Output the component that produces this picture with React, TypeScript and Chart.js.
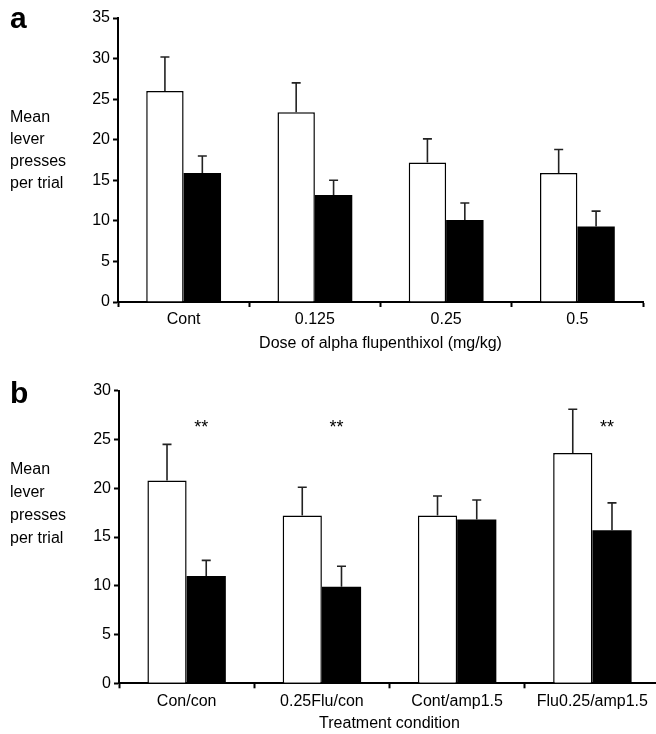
import React, { useEffect, useRef } from "react";
import { Chart, registerables } from "chart.js";

Chart.register(...registerables);

// ---------- data ----------
const doseLabels = ["Cont", "0.125", "0.25", "0.5"];
const doseOpenMeans = [26.0, 23.4, 17.2, 15.9];
const doseOpenSem = [4.2, 3.6, 2.9, 2.9];
const doseFilledMeans = [15.9, 13.2, 10.1, 9.3];
const doseFilledSem = [2.1, 1.8, 2.1, 1.9];
const doseAxisMax = 35;

const treatLabels = ["Con/con", "0.25Flu/con", "Cont/amp1.5", "Flu0.25/amp1.5"];
const treatOpenMeans = [20.8, 17.2, 17.2, 23.6];
const treatOpenSem = [3.7, 2.9, 2.0, 4.5];
const treatFilledMeans = [11.0, 9.9, 16.8, 15.7];
const treatFilledSem = [1.6, 2.1, 2.0, 2.8];
const treatSignificance = ["**", "**", "", "**"];
const treatSigLevel = 26.7;
const treatAxisMax = 30;

const yTitleLines = ["Mean", "lever", "presses", "per trial"];
const doseTitle = "Dose of alpha flupenthixol (mg/kg)";
const treatTitle = "Treatment condition";

const FONT = "'Liberation Sans', Arial, Helvetica, sans-serif";

Chart.defaults.font.family = FONT;
Chart.defaults.font.size = 16;
Chart.defaults.color = "#000";

const errorBarPlugin = {
  id: "errorBars",
  afterDatasetsDraw(chart: any) {
    const ctx = chart.ctx;
    const y = chart.scales.y;
    chart.data.datasets.forEach((ds: any, di: number) => {
      const meta = chart.getDatasetMeta(di);
      meta.data.forEach((bar: any, i: number) => {
        const top = y.getPixelForValue(ds.data[i] + ds.errors[i]);
        ctx.save();
        ctx.strokeStyle = "#222";
        ctx.lineWidth = 1.6;
        ctx.beginPath();
        ctx.moveTo(bar.x, bar.y);
        ctx.lineTo(bar.x, top);
        ctx.moveTo(bar.x - 4.5, top);
        ctx.lineTo(bar.x + 4.5, top);
        ctx.stroke();
        ctx.restore();
      });
    });
  },
};

function makeTextPlugin(letter: string, letterY: number, titleY0: number, titleStep: number, sig?: string[], sigLevel?: number) {
  return {
    id: "panelText",
    afterDraw(chart: any) {
      const ctx = chart.ctx;
      ctx.save();
      ctx.fillStyle = "#000";
      ctx.font = `bold 30px ${FONT}`;
      ctx.textAlign = "left";
      ctx.textBaseline = "alphabetic";
      ctx.fillText(letter, 10, letterY);
      ctx.font = `16px ${FONT}`;
      ctx.textBaseline = "middle";
      yTitleLines.forEach((line, i) => ctx.fillText(line, 10, titleY0 + i * titleStep));
      if (sig && sigLevel !== undefined) {
        const meta = chart.getDatasetMeta(1);
        const yPix = chart.scales.y.getPixelForValue(sigLevel);
        ctx.font = `18px ${FONT}`;
        ctx.textAlign = "center";
        ctx.textBaseline = "alphabetic";
        sig.forEach((s, i) => {
          if (!s) return;
          const bar: any = meta.data[i];
          ctx.fillText(s, bar.x - 5, yPix + 10);
        });
      }
      ctx.restore();
    },
  };
}

function makeConfig(o: {
  labels: string[];
  open: number[];
  openErr: number[];
  filled: number[];
  filledErr: number[];
  max: number;
  yWidth: number;
  xHeight: number;
  padTop: number;
  padRight: number;
  catPct: number;
  title: string;
  tickPad: number;
  titlePadBottom: number;
  textPlugin: any;
}): any {
  return {
    type: "bar",
    data: {
      labels: o.labels,
      datasets: [
        {
          label: "Open",
          data: o.open,
          errors: o.openErr,
          backgroundColor: "#fff",
          borderColor: "#000",
          borderWidth: 1.5,
          borderSkipped: "bottom",
          categoryPercentage: o.catPct,
          barPercentage: 1,
        },
        {
          label: "Filled",
          data: o.filled,
          errors: o.filledErr,
          backgroundColor: "#000",
          borderColor: "#000",
          borderWidth: 0,
          categoryPercentage: o.catPct,
          barPercentage: 1,
        },
      ],
    },
    options: {
      responsive: false,
      animation: false,
      layout: { padding: { top: o.padTop, right: o.padRight, left: 0, bottom: 0 } },
      plugins: { legend: { display: false }, tooltip: { enabled: false } },
      scales: {
        x: {
          grid: {
            offset: true,
            drawOnChartArea: false,
            drawTicks: true,
            tickLength: 5,
            tickWidth: 2,
            tickColor: "#000",
          },
          border: { display: true, color: "#000", width: 2 },
          ticks: { color: "#000", padding: o.tickPad, font: { size: 16 }, maxRotation: 0, autoSkip: false },
          title: {
            display: true,
            text: o.title,
            color: "#000",
            font: { size: 16 },
            padding: { top: 0, bottom: o.titlePadBottom },
          },
          afterFit(scale: any) {
            scale.height = o.xHeight;
          },
        },
        y: {
          min: 0,
          max: o.max,
          ticks: { stepSize: 5, color: "#000", padding: 3, font: { size: 16 } },
          grid: {
            drawOnChartArea: false,
            drawTicks: true,
            tickLength: 5,
            tickWidth: 2,
            tickColor: "#000",
          },
          border: { display: true, color: "#000", width: 2 },
          afterFit(scale: any) {
            scale.width = o.yWidth;
          },
        },
      },
    },
    plugins: [errorBarPlugin, o.textPlugin],
  };
}

export default function App() {
  const refA = useRef<HTMLCanvasElement>(null);
  const refB = useRef<HTMLCanvasElement>(null);

  useEffect(() => {
    const chartA = new Chart(
      refA.current as HTMLCanvasElement,
      makeConfig({
        labels: doseLabels,
        open: doseOpenMeans,
        openErr: doseOpenSem,
        filled: doseFilledMeans,
        filledErr: doseFilledSem,
        max: doseAxisMax,
        yWidth: 118,
        xHeight: 58,
        padTop: 18,
        padRight: 13,
        catPct: 0.57,
        title: doseTitle,
        tickPad: 3,
        titlePadBottom: 7,
        textPlugin: makeTextPlugin("a", 28, 118, 22),
      })
    );
    const chartB = new Chart(
      refB.current as HTMLCanvasElement,
      makeConfig({
        labels: treatLabels,
        open: treatOpenMeans,
        openErr: treatOpenSem,
        filled: treatFilledMeans,
        filledErr: treatFilledSem,
        max: treatAxisMax,
        yWidth: 119,
        xHeight: 50.7,
        padTop: 30.7,
        padRight: 12,
        catPct: 0.58,
        title: treatTitle,
        tickPad: 4,
        titlePadBottom: 1,
        textPlugin: makeTextPlugin("b", 43, 110, 22.7, treatSignificance, treatSigLevel),
      })
    );
    return () => {
      chartA.destroy();
      chartB.destroy();
    };
  }, []);

  return (
    <div
      style={{
        position: "absolute",
        left: 0,
        top: 0,
        width: 656,
        height: 734,
        overflow: "hidden",
        background: "#fff",
      }}
    >
      <canvas
        ref={refA}
        width={656}
        height={360}
        style={{ position: "absolute", left: 0, top: 0, width: 656, height: 360 }}
      />
      <canvas
        ref={refB}
        width={672}
        height={374}
        style={{ position: "absolute", left: 0, top: 360, width: 672, height: 374 }}
      />
    </div>
  );
}
